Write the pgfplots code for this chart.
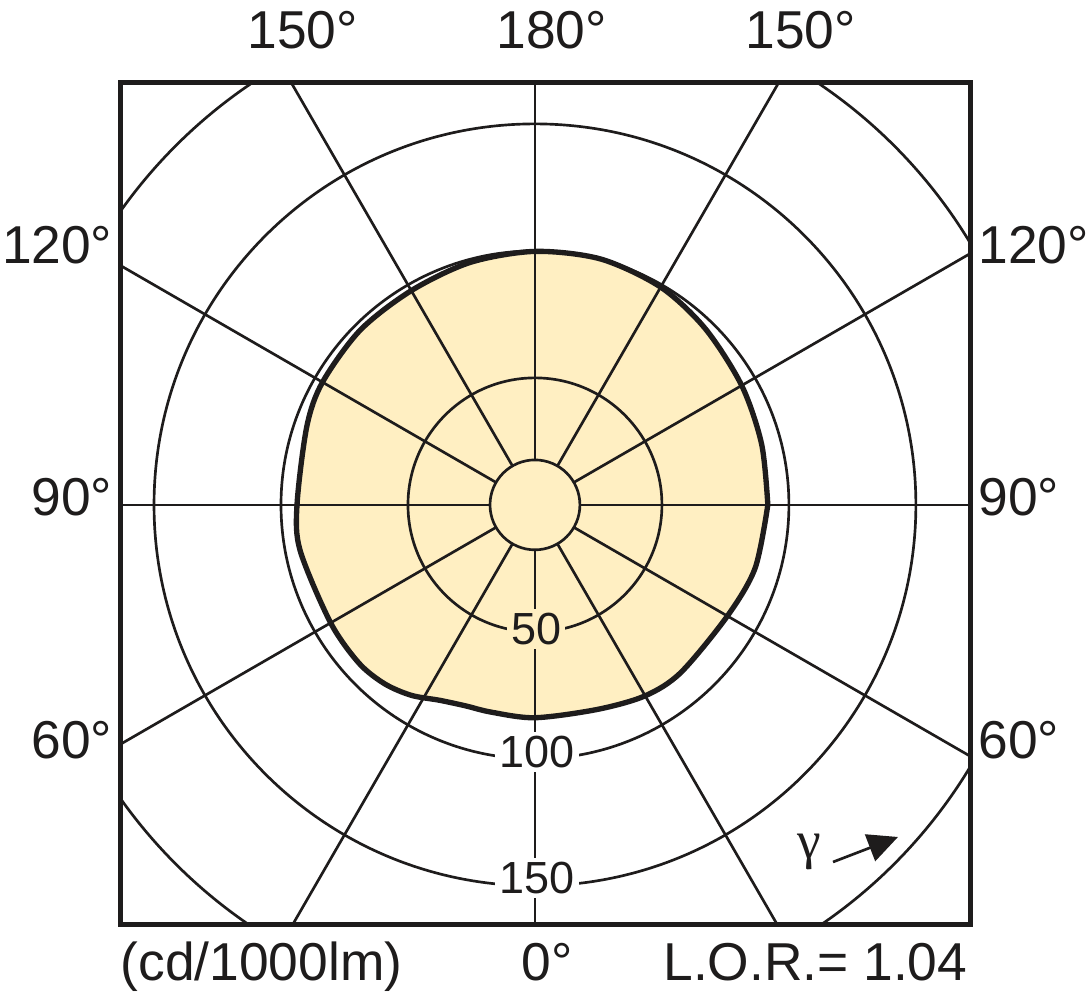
\documentclass[border=0pt]{standalone}
\usepackage{fontspec}
\setmainfont{Liberation Sans}
\newfontfamily\gammafont{Liberation Serif}
\usepackage{pgfplots}
\pgfplotsset{compat=1.18}
\usetikzlibrary{arrows.meta}
\definecolor{gridc}{RGB}{30,28,28}
\definecolor{fillc}{RGB}{255,239,194}
\begin{document}
\begin{tikzpicture}
\begin{axis}[
  at={(0,0)}, anchor=south west,
  scale only axis, width=255.3pt, height=252.6pt,
  xmin=-163.4, xmax=171.7, ymin=-165.4, ymax=166.1,
  xtick=\empty, ytick=\empty,
  axis line style={line width=1.5pt, draw=gridc},
  axis on top,
  clip=true,
]
% luminous intensity curve (angle in degrees from +x, value in cd/1000lm)
\addplot[fill=fillc, draw=none, data cs=polar, smooth, tension=0.5] coordinates {
(0,91.7) (15,92.4) (30,94.0) (46,96.5) (60,99.0) (75,100.2) (90,99.8)
(105,98.8) (120,97.4) (135,97.3) (150,96.6) (161,95.0) (180,93.7)
(191,94.2) (210,92.9) (222,93.2) (230,92.0) (237,89.4) (244,85.6) (251,83.7)
(258,83.4) (270,83.8) (287,84.2) (300,86.8) (311,87.5) (330,87.5)
(344,90.2) (360,91.7)} -- cycle;
% grid circles
\draw[gridc, line width=0.8pt] (axis cs:0,0) circle[radius=17.7];
\draw[gridc, line width=0.8pt] (axis cs:0,0) circle[radius=50];
\draw[gridc, line width=0.8pt] (axis cs:0,0) circle[radius=100];
\draw[gridc, line width=0.8pt] (axis cs:0,0) circle[radius=150];
\draw[gridc, line width=0.8pt] (axis cs:0,0) circle[radius=200];
% radial lines
\pgfplotsinvokeforeach{0,30,...,330}{
  \draw[gridc, line width=0.8pt] (axis cs:{17.7*cos(#1)},{17.7*sin(#1)}) -- (axis cs:{320*cos(#1)},{320*sin(#1)});
}
\addplot[draw=gridc, line width=1.6pt, data cs=polar, smooth, tension=0.5] coordinates {
(0,91.7) (15,92.4) (30,94.0) (46,96.5) (60,99.0) (75,100.2) (90,99.8)
(105,98.8) (120,97.4) (135,97.3) (150,96.6) (161,95.0) (180,93.7)
(191,94.2) (210,92.9) (222,93.2) (230,92.0) (237,89.4) (244,85.6) (251,83.7)
(258,83.4) (270,83.8) (287,84.2) (300,86.8) (311,87.5) (330,87.5)
(344,90.2) (360,91.7)} -- cycle;
\node[fill=fillc, inner sep=1.2pt, font=\fontsize{13.5pt}{15pt}\selectfont, text=gridc] at (axis cs:0.5,-48.8) {50};
\node[fill=white, inner sep=1.2pt, font=\fontsize{13.5pt}{15pt}\selectfont, text=gridc] at (axis cs:0.8,-97.2) {100};
\node[fill=white, inner sep=1.2pt, font=\fontsize{13.5pt}{15pt}\selectfont, text=gridc] at (axis cs:0.8,-146.9) {150};
\end{axis}
\begin{scope}[every node/.style={inner sep=0pt, text=gridc, font=\fontsize{16pt}{19pt}\selectfont}]
\node[anchor=base west] at (38.1pt,262.8pt) {150°};
\node[anchor=base west] at (112.8pt,262.8pt) {180°};
\node[anchor=base west] at (187.5pt,262.8pt) {150°};
\node[anchor=base east] at (-2.1pt,198.3pt) {120°};
\node[anchor=base east] at (-2.1pt,122.7pt) {90°};
\node[anchor=base east] at (-2.1pt,49.8pt) {60°};
\node[anchor=base west] at (257.4pt,198.3pt) {120°};
\node[anchor=base west] at (257.4pt,122.7pt) {90°};
\node[anchor=base west] at (257.4pt,49.8pt) {60°};
\node[anchor=base west] at (0pt,-16.8pt) {(cd/1000lm)};
\node[anchor=base west] at (120.3pt,-16.8pt) {0°};
\node[anchor=base east] at (254.4pt,-16.8pt) {L.O.R.= 1.04};
\node[font=\gammafont\fontsize{16pt}{19pt}\selectfont] at (206.7pt,21.9pt) {γ};
\end{scope}
\draw[gridc, line width=0.8pt, -{Triangle[length=9pt,width=8.5pt]}] (213.9pt,18.9pt) -- (233.4pt,26.4pt);
\pgfresetboundingbox
\path (-36pt,-22.5pt) rectangle (291.3pt,277.5pt);
\end{tikzpicture}
\end{document}
